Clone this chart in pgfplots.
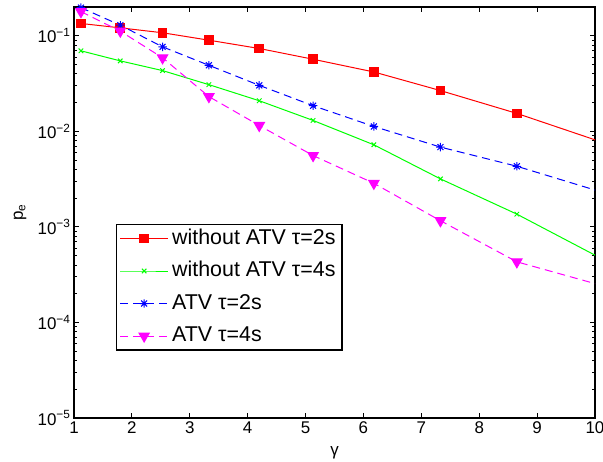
\documentclass[border=0pt]{standalone}
\usepackage{fontspec}
\setmainfont{Liberation Sans}
\usepackage{pgfplots}
\pgfplotsset{compat=1.18}
\definecolor{mred}{rgb}{1,0,0}
\definecolor{mgreen}{rgb}{0,1,0}
\definecolor{mblue}{rgb}{0,0,1}
\definecolor{mmag}{rgb}{1,0,1}

\pgfdeclareplotmark{ast8}{%
 \pgfpathmoveto{\pgfqpoint{0pt}{\pgfplotmarksize}}\pgfpathlineto{\pgfqpoint{0pt}{-\pgfplotmarksize}}%
 \pgfpathmoveto{\pgfqpoint{\pgfplotmarksize}{0pt}}\pgfpathlineto{\pgfqpoint{-\pgfplotmarksize}{0pt}}%
 \pgfpathmoveto{\pgfqpoint{0.7071\pgfplotmarksize}{0.7071\pgfplotmarksize}}\pgfpathlineto{\pgfqpoint{-0.7071\pgfplotmarksize}{-0.7071\pgfplotmarksize}}%
 \pgfpathmoveto{\pgfqpoint{0.7071\pgfplotmarksize}{-0.7071\pgfplotmarksize}}\pgfpathlineto{\pgfqpoint{-0.7071\pgfplotmarksize}{0.7071\pgfplotmarksize}}%
 \pgfusepathqstroke}

\pgfplotstableread{
x      red      green     blue     mag
1.12   0.1345   0.0696    0.197    0.1787
1.80   0.121    0.0546    0.129    0.1118
2.53   0.1075   0.0432    0.0766   0.0588
3.33   0.0899   0.0308    0.0491   0.0231
4.20   0.0736   0.0209    0.0303   0.01151
5.13   0.0568   0.0130    0.01854  0.00558
6.18   0.0418   0.00723   0.01125  0.00286
7.33   0.0267   0.00318   0.00684  0.00116
8.65   0.0154   0.00136   0.00431  0.000431
10     0.00815  0.000506  0.00243  0.000255
}\datatable

\begin{document}
\begin{tikzpicture}
\useasboundingbox (-74bp,-44bp) rectangle (529bp,418bp);
\begin{axis}[
  at={(0,0)}, anchor=south west,
  scale only axis,
  width=521bp, height=411bp,
  ymode=log,
  xmin=1, xmax=10,
  ymin=1e-5, ymax=0.2,
  xtick={1,2,...,10},
  ytick={1e-5,1e-4,1e-3,1e-2,1e-1},
  yticklabels={10\textsuperscript{−5},10\textsuperscript{−4},10\textsuperscript{−3},10\textsuperscript{−2},10\textsuperscript{−1}},
  minor ytick={2e-5,3e-5,4e-5,5e-5,6e-5,7e-5,8e-5,9e-5,
               2e-4,3e-4,4e-4,5e-4,6e-4,7e-4,8e-4,9e-4,
               2e-3,3e-3,4e-3,5e-3,6e-3,7e-3,8e-3,9e-3,
               2e-2,3e-2,4e-2,5e-2,6e-2,7e-2,8e-2,9e-2},
  /pgf/number format/assume math mode=true,
  tick align=inside,
  major tick length=5bp,
  minor tick length=3bp,
  tick style={black, line width=0.8bp},
  axis line style={line width=1.3bp},
  ticklabel style={font=\fontsize{17}{20}\selectfont},
  every axis x label/.style={at={(rel axis cs:0.5,0)}, anchor=center, yshift=-35bp, font=\fontsize{17}{20}\selectfont},
  every axis y label/.style={at={(rel axis cs:0,0.5)}, xshift=-54bp, rotate=90, anchor=center, font=\fontsize{17}{20}\selectfont},
  xlabel={γ},
  ylabel={p\textsubscript{e}},
  clip=false,
  legend style={at={(0.0806,0.4724)}, anchor=north west, draw=black, line width=1.3bp,
    font=\fontsize{21.5}{25}\selectfont, inner xsep=3bp, inner ysep=3bp,
    row sep=10.5bp, nodes={inner xsep=3.5bp, inner ysep=1bp, text height=15.5bp, text depth=4.5bp}},
  legend cell align=left,
  legend image code/.code={\draw[mark indices={2}] plot coordinates {(0bp,0bp) (24bp,0bp) (48bp,0bp)};},
]
\addplot[mred, line width=1bp, mark=square*, mark size=4.4bp, mark options={solid, fill=mred}, mark indices={1,...,9}]
  table[x=x, y=red] {\datatable};
\addlegendentry{without ATV τ=2s}
\addplot[mgreen, line width=1bp, mark=x, mark size=3.2bp, mark options={solid}, mark indices={1,...,9}]
  table[x=x, y=green] {\datatable};
\addlegendentry{without ATV τ=4s}
\addplot[mblue, line width=1bp, dash pattern=on 8bp off 5bp, mark=ast8, mark size=4.2bp, mark options={solid}, mark indices={1,...,9}]
  table[x=x, y=blue] {\datatable};
\addlegendentry{ATV τ=2s}
\addplot[mmag, line width=1bp, dash pattern=on 8bp off 5bp, mark=triangle*, mark size=6bp, mark options={solid, fill=mmag, rotate=180}, mark indices={1,...,9}]
  table[x=x, y=mag] {\datatable};
\addlegendentry{ATV τ=4s}
\end{axis}
\end{tikzpicture}
\end{document}
